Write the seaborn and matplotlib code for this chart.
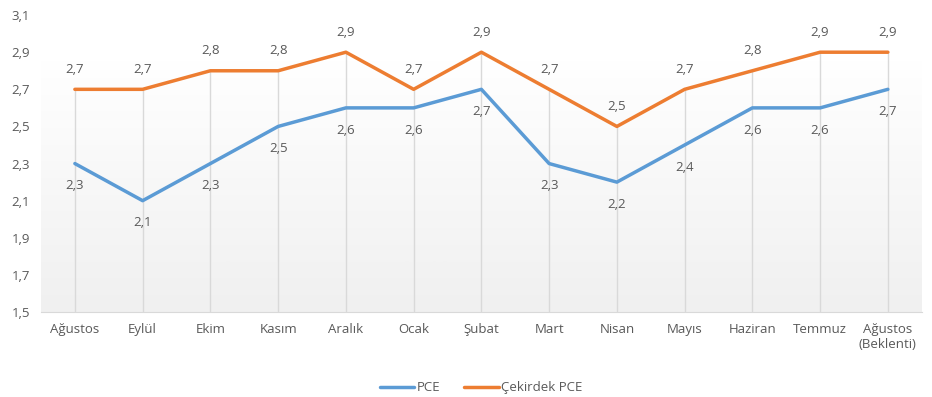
import numpy as np
import pandas as pd
import matplotlib.pyplot as plt
import seaborn as sns
from matplotlib.colors import LinearSegmentedColormap

months = ["Ağustos", "Eylül", "Ekim", "Kasım", "Aralık", "Ocak", "Şubat",
          "Mart", "Nisan", "Mayıs", "Haziran", "Temmuz", "Ağustos\n(Beklenti)"]
pce = [2.3, 2.1, 2.3, 2.5, 2.6, 2.6, 2.7, 2.3, 2.2, 2.4, 2.6, 2.6, 2.7]
core_pce = [2.7, 2.7, 2.8, 2.8, 2.9, 2.7, 2.9, 2.7, 2.5, 2.7, 2.8, 2.9, 2.9]
y_ticks = [1.5, 1.7, 1.9, 2.1, 2.3, 2.5, 2.7, 2.9, 3.1]

df = pd.DataFrame({
    "pos": list(range(len(months))) * 2,
    "value": pce + core_pce,
    "series": ["PCE"] * len(months) + ["Çekirdek PCE"] * len(months),
})

sns.set_style("white")
plt.rcParams['font.family'] = ['Open Sans', 'DejaVu Sans']
text_color = "#595959"
colors = {"PCE": "#5B9BD5", "Çekirdek PCE": "#ED7D31"}

fig = plt.figure(figsize=(9.32, 3.97), dpi=100)
ax = fig.add_axes([0.044, 0.214, 0.945, 0.748])

# soft gradient background (white at top, light grey at the bottom)
grad = LinearSegmentedColormap.from_list("bg", ["#ffffff", "#f0f0f0"])
ax.imshow(np.linspace(0, 1, 256).reshape(-1, 1), cmap=grad, aspect="auto",
          extent=[-0.5, 12.5, 1.5, 2.85], origin="upper", zorder=0)

# drop lines from the higher series down to the axis
top = np.maximum(pce, core_pce)
ax.vlines(range(len(months)), 1.5, top, color="#d9d9d9", linewidth=1, zorder=1)

sns.lineplot(data=df, x="pos", y="value", hue="series", palette=colors,
             linewidth=2.5, ax=ax, zorder=3)

for i, v in enumerate(pce):
    ax.annotate(f"{v:.1f}".replace(".", ","), (i, v), xytext=(0, -16),
                textcoords="offset points", ha="center", va="center",
                fontsize=9.5, color=text_color)
for i, v in enumerate(core_pce):
    ax.annotate(f"{v:.1f}".replace(".", ","), (i, v), xytext=(0, 14.5),
                textcoords="offset points", ha="center", va="center",
                fontsize=9.5, color=text_color)

ax.set_xlim(-0.5, 12.5)
ax.set_ylim(1.5, 3.1)
ax.set_xticks(range(len(months)))
ax.set_xticklabels(months, fontsize=9.5, color=text_color)
ax.set_yticks(y_ticks)
ax.set_yticklabels([f"{t:.1f}".replace(".", ",") for t in y_ticks],
                   fontsize=9.5, color=text_color)
ax.tick_params(length=0, pad=8)
ax.grid(False)
for s in ["top", "left", "right"]:
    ax.spines[s].set_visible(False)
ax.spines["bottom"].set_color("#d9d9d9")
ax.set_xlabel("")
ax.set_ylabel("")

handles, labels = ax.get_legend_handles_labels()
ax.legend(handles, labels, loc="center", bbox_to_anchor=(0.5, -0.255),
          ncol=2, frameon=False, fontsize=9.5, handlelength=2.6,
          handletextpad=0.2, columnspacing=1.8, labelcolor=text_color)

fig.savefig("out.png", dpi=100)
